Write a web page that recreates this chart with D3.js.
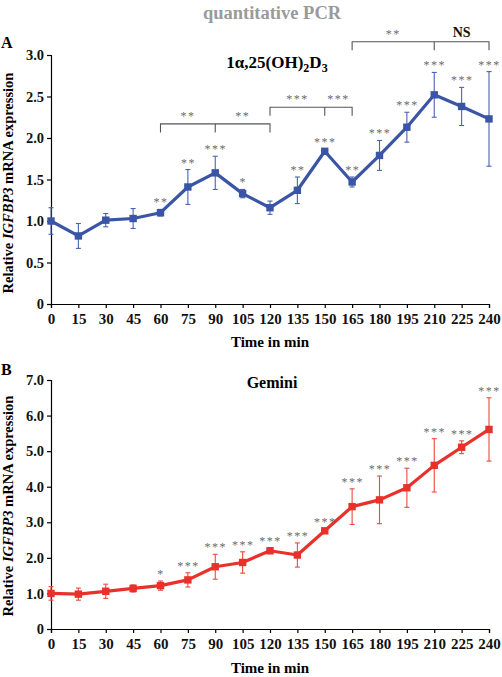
<!DOCTYPE html>
<html>
<head>
<meta charset="utf-8">
<script src="https://cdn.jsdelivr.net/npm/d3@7"></script>
<style>
  html, body { margin: 0; padding: 0; background: #fff; }
  svg { display: block; }
  text { font-family: "Liberation Serif", "Times New Roman", serif; }
  .star { opacity: 0.98; }
</style>
</head>
<body>
<svg id="chart" width="502" height="677"></svg>
<script>
// ---- Data ----
const times = [0, 15, 30, 45, 60, 75, 90, 105, 120, 135, 150, 165, 180, 195, 210, 225, 240];

// Panel A: 1α,25(OH)2D3
const calcitriolMean = [1.00, 0.82, 1.01, 1.03, 1.10, 1.41, 1.58, 1.33, 1.16, 1.37, 1.84, 1.47, 1.79, 2.13, 2.52, 2.38, 2.23];
const calcitriolErr  = [0.16, 0.15, 0.08, 0.12, 0.04, 0.21, 0.20, 0.05, 0.08, 0.16, 0.03, 0.06, 0.18, 0.18, 0.27, 0.23, 0.57];
const calcitriolSig  = ["", "", "", "", "**", "**", "***", "*", "", "**", "***", "**", "***", "***", "***", "***", "***"];

// Panel B: Gemini
const geminiMean = [1.00, 0.98, 1.06, 1.14, 1.22, 1.38, 1.75, 1.87, 2.20, 2.08, 2.76, 3.44, 3.63, 3.97, 4.60, 5.11, 5.61];
const geminiErr  = [0.19, 0.17, 0.20, 0.10, 0.13, 0.20, 0.35, 0.30, 0.08, 0.34, 0.05, 0.50, 0.67, 0.55, 0.75, 0.18, 0.89];
const geminiSig  = ["", "", "", "", "*", "***", "***", "***", "***", "***", "***", "***", "***", "***", "***", "***", "***"];

// Axis ticks
const yTicksA = [0, 0.5, 1.0, 1.5, 2.0, 2.5, 3.0];
const yTickLabelsA = ["0", "0.5", "1.0", "1.5", "2.0", "2.5", "3.0"];
const yTicksB = [0, 1, 2, 3, 4, 5, 6, 7];
const yTickLabelsB = ["0", "1.0", "2.0", "3.0", "4.0", "5.0", "6.0", "7.0"];

// Comparison brackets for panel A: [start, middle, end], left label, right label, level (data units)
const bracketStarts = [60, 120, 165];
const bracketMids   = [90, 150, 210];
const bracketEnds   = [120, 165, 240];
const bracketLeftLabels  = ["**", "***", "**"];
const bracketRightLabels = ["**", "***", "NS"];
const bracketLevels = [2.17, 2.37, 3.16];

// ---- Drawing ----
const svg = d3.select("#chart");
const BLUE = "#3a55a6", BLUE_ERR = "#4a63ae";
const RED = "#e8312a", RED_ERR = "#ea4a40";
const STAR = "#6a6a6a";

svg.append("text").attr("x", 272).attr("y", 19).attr("text-anchor", "middle")
  .attr("font-size", 18.5).attr("font-weight", "bold").attr("fill", "#9a9a9a")
  .text("quantitative PCR");

function panel(opts) {
  const x = d3.scaleLinear().domain([0, 240]).range([51, 489]);
  const y = d3.scaleLinear().domain(opts.yDomain).range(opts.yRange);
  const g = svg.append("g");

  // panel letter
  g.append("text").attr("x", 1).attr("y", opts.letterY)
    .attr("font-size", 16).attr("font-weight", "bold").text(opts.letter);

  // y axis
  const yAxis = d3.axisLeft(y).tickValues(opts.yTicks).tickSize(4).tickPadding(3)
    .tickFormat((d, i) => opts.yTickLabels[i]);
  const ya = g.append("g").attr("transform", `translate(${x(0)},0)`).call(yAxis);
  ya.select(".domain").attr("stroke", "#000").attr("stroke-width", 1.2);
  ya.selectAll(".tick line").attr("stroke", "#000").attr("stroke-width", 1.2);
  ya.selectAll(".tick text").attr("font-size", 14.5).attr("font-weight", "bold")
    .attr("font-family", "Liberation Serif, serif").attr("fill", "#111");

  // x axis
  const xAxis = d3.axisBottom(x).tickValues(times).tickSize(4).tickPadding(5)
    .tickFormat(d3.format("d"));
  const xa = g.append("g").attr("transform", `translate(0,${y(0)})`).call(xAxis);
  xa.select(".domain").attr("stroke", "#000").attr("stroke-width", 1.2);
  xa.selectAll(".tick line").attr("stroke", "#000").attr("stroke-width", 1.2);
  xa.selectAll(".tick text").attr("font-size", 15).attr("font-weight", "bold")
    .attr("font-family", "Liberation Serif, serif").attr("fill", "#111");

  // x label
  g.append("text").attr("x", 270).attr("y", opts.xLabelY).attr("text-anchor", "middle")
    .attr("font-size", 15).attr("font-weight", "bold").text("Time in min");

  // y label
  const yl = g.append("text")
    .attr("transform", `translate(13,${opts.yLabelCenter}) rotate(-90)`)
    .attr("text-anchor", "middle").attr("font-size", 14.5).attr("font-weight", "bold");
  yl.append("tspan").text("Relative ");
  yl.append("tspan").attr("font-style", "italic").text("IGFBP3");
  yl.append("tspan").text(" mRNA expression");

  const data = times.map((t, i) => ({ t, m: opts.mean[i], e: opts.err[i], s: opts.sig[i] }));

  // error bars
  const eb = g.append("g").attr("stroke", opts.errColor).attr("stroke-width", 1.1);
  data.forEach(d => {
    eb.append("line").attr("x1", x(d.t)).attr("x2", x(d.t)).attr("y1", y(d.m - d.e)).attr("y2", y(d.m + d.e));
    eb.append("line").attr("x1", x(d.t) - 2.5).attr("x2", x(d.t) + 2.5).attr("y1", y(d.m - d.e)).attr("y2", y(d.m - d.e));
    eb.append("line").attr("x1", x(d.t) - 2.5).attr("x2", x(d.t) + 2.5).attr("y1", y(d.m + d.e)).attr("y2", y(d.m + d.e));
  });

  // line
  const line = d3.line().x(d => x(d.t)).y(d => y(d.m));
  g.append("path").datum(data).attr("d", line).attr("fill", "none")
    .attr("stroke", opts.color).attr("stroke-width", 3.2).attr("stroke-linejoin", "round");

  // markers
  g.selectAll(null).data(data).enter().append("rect")
    .attr("x", d => x(d.t) - 3.7).attr("y", d => y(d.m) - 3.7)
    .attr("width", 7.4).attr("height", 7.4).attr("fill", opts.color);

  // significance stars
  g.selectAll(null).data(data.filter(d => d.s)).enter().append("text")
    .attr("class", "star")
    .attr("x", d => x(d.t) + 0.5).attr("y", d => y(d.m + d.e) - 3)
    .attr("text-anchor", "middle").attr("font-size", 12).attr("letter-spacing", 1.5)
    .attr("fill", STAR).text(d => d.s);

  // panel title
  opts.title(g, x, y);
  return { x, y, g };
}

const A = panel({
  letter: "A", letterY: 48, yDomain: [0, 3], yRange: [304, 55],
  yTicks: yTicksA, yTickLabels: yTickLabelsA,
  mean: calcitriolMean, err: calcitriolErr, sig: calcitriolSig,
  color: BLUE, errColor: BLUE_ERR, xLabelY: 347, yLabelCenter: 183,
  title: (g) => {
    const t = g.append("text").attr("x", 277).attr("y", 68).attr("text-anchor", "middle")
      .attr("font-size", 17).attr("font-weight", "bold");
    t.append("tspan").text("1α,25(OH)");
    t.append("tspan").attr("font-size", 12).attr("dy", 4).text("2");
    t.append("tspan").attr("dy", -4).text("D");
    t.append("tspan").attr("font-size", 12).attr("dy", 4).text("3");
  }
});

// brackets for panel A
bracketStarts.forEach((s, i) => {
  const x = A.x, y = A.y;
  const yl = y(bracketLevels[i]);
  const drop = 8.5;
  const bg = A.g.append("g").attr("stroke", "#555").attr("stroke-width", 1.1).attr("fill", "none");
  bg.append("path").attr("d",
    `M${x(s)},${yl + drop}V${yl}H${x(bracketEnds[i])}V${yl + drop}M${x(bracketMids[i])},${yl}V${yl + drop}`);
  const lbl = (txt, cx) => {
    const isNS = txt === "NS";
    A.g.append("text").attr("class", isNS ? null : "star")
      .attr("x", cx).attr("y", isNS ? yl - 5 : yl - 4)
      .attr("text-anchor", "middle")
      .attr("font-size", isNS ? 14 : 12)
      .attr("font-weight", isNS ? "bold" : "normal")
      .attr("letter-spacing", isNS ? 0 : 1.5)
      .attr("fill", isNS ? "#111" : STAR).text(txt);
  };
  lbl(bracketLeftLabels[i], (x(s) + x(bracketMids[i])) / 2);
  lbl(bracketRightLabels[i], (x(bracketMids[i]) + x(bracketEnds[i])) / 2);
});

panel({
  letter: "B", letterY: 375, yDomain: [0, 7], yRange: [629, 380],
  yTicks: yTicksB, yTickLabels: yTickLabelsB,
  mean: geminiMean, err: geminiErr, sig: geminiSig,
  color: RED, errColor: RED_ERR, xLabelY: 673, yLabelCenter: 506,
  title: (g) => {
    g.append("text").attr("x", 272).attr("y", 388).attr("text-anchor", "middle")
      .attr("font-size", 16).attr("font-weight", "bold").text("Gemini");
  }
});
</script>
</body>
</html>
